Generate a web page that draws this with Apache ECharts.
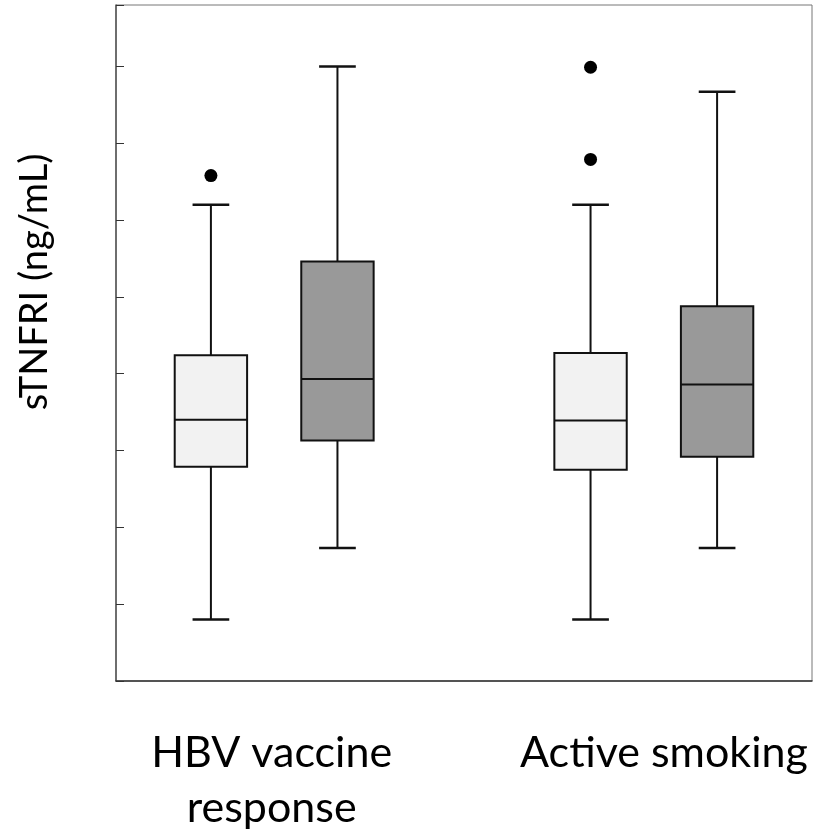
<!DOCTYPE html>
<html>
<head>
<meta charset="utf-8">
<script src="https://cdn.jsdelivr.net/npm/echarts@6/dist/echarts.min.js"></script>
<style>html,body{margin:0;padding:0;background:#fff}#c{width:817px;height:839px}</style>
</head>
<body>
<div id="c"></div>
<script>
// ---- data ----
const groupLabels = ['HBV vaccine\nresponse', 'Active smoking'];
const groupLabelPos = [1.23, 4.33];
const boxX = [0.75, 1.75, 3.75, 4.75];
const whiskerLow = [-0.2, 0.73, -0.2, 0.73];
const q1 = [1.79, 2.13, 1.75, 1.92];
const median = [2.40, 2.93, 2.39, 2.86];
const q3 = [3.24, 4.46, 3.27, 3.88];
const whiskerHigh = [5.2, 7.0, 5.2, 6.67];
const boxFill = ['#f2f2f2', '#999999', '#f2f2f2', '#999999'];
const outlierX = [0.75, 3.75, 3.75];
const outlierY = [5.58, 6.99, 5.79];
const yTicks = [0, 1, 2, 3, 4, 5, 6, 7];

// ---- build ----
const boxData = boxX.map((x, i) => [x, whiskerLow[i], q1[i], median[i], q3[i], whiskerHigh[i], i]);
const outlierData = outlierX.map((x, i) => [x, outlierY[i]]);
const tickLabelData = yTicks.map(v => [0, v]);
const BOX_HALF = 0.286;   // in x units
const CAP_HALF = 0.145;

const chart = echarts.init(document.getElementById('c'));
chart.setOption({
  animation: false,
  backgroundColor: '#fff',
  grid: { left: 116, right: 5, top: 5, bottom: 158, show: true, borderColor: '#777', borderWidth: 1, outerBoundsMode: 'none' },
  xAxis: {
    type: 'value', min: 0, max: 5.5,
    axisLine: { show: true, onZero: false, lineStyle: { color: '#333', width: 1.5 } },
    axisTick: { show: false },
    splitLine: { show: false },
    axisLabel: {
      customValues: groupLabelPos,
      formatter: function (v) {
        const i = groupLabelPos.indexOf(v);
        return i >= 0 ? groupLabels[i] : '';
      },
      fontFamily: 'Lato', fontSize: 43, color: '#000', lineHeight: 55, margin: 45
    }
  },
  yAxis: {
    type: 'value', min: -1, max: 7.8, interval: 1,
    axisLine: { show: true, onZero: false, lineStyle: { color: '#555', width: 1.5 } },
    axisTick: { show: true, inside: true, length: 8, lineStyle: { color: '#333', width: 1 } },
    splitLine: { show: false },
    axisLabel: { show: false }
  },
  graphic: [{
    type: 'text', x: 35, y: 282, rotation: Math.PI / 2,
    style: { text: 'sTNFRI (ng/mL)', fontFamily: 'Lato', fontSize: 38, fill: '#000', align: 'center', verticalAlign: 'middle' }
  }],
  series: [
    {
      type: 'custom',
      data: boxData,
      renderItem: function (params, api) {
        const x = api.value(0);
        const lo = api.value(1), a = api.value(2), m = api.value(3), b = api.value(4), hi = api.value(5);
        const idx = api.value(6);
        const pLo = api.coord([x, lo]), pA = api.coord([x, a]), pB = api.coord([x, b]), pHi = api.coord([x, hi]);
        const pM = api.coord([x, m]);
        const xl = api.coord([x - BOX_HALF, 0])[0], xr = api.coord([x + BOX_HALF, 0])[0];
        const cl = api.coord([x - CAP_HALF, 0])[0], cr = api.coord([x + CAP_HALF, 0])[0];
        const ls = { stroke: '#111', lineWidth: 2 };
        return {
          type: 'group',
          children: [
            { type: 'line', shape: { x1: pLo[0], y1: pLo[1], x2: pA[0], y2: pA[1] }, style: ls },
            { type: 'line', shape: { x1: pB[0], y1: pB[1], x2: pHi[0], y2: pHi[1] }, style: ls },
            { type: 'line', shape: { x1: cl, y1: pLo[1], x2: cr, y2: pLo[1] }, style: { stroke: '#111', lineWidth: 2.5 } },
            { type: 'line', shape: { x1: cl, y1: pHi[1], x2: cr, y2: pHi[1] }, style: { stroke: '#111', lineWidth: 2.5 } },
            { type: 'rect', shape: { x: xl, y: pB[1], width: xr - xl, height: pA[1] - pB[1] },
              style: { fill: boxFill[idx], stroke: '#111', lineWidth: 2 } },
            { type: 'line', shape: { x1: xl, y1: pM[1], x2: xr, y2: pM[1] }, style: ls }
          ]
        };
      }
    },
    {
      type: 'scatter', data: outlierData, symbol: 'circle', symbolSize: 13,
      itemStyle: { color: '#000', opacity: 1 }
    },
    {
      type: 'scatter', data: tickLabelData, symbolSize: 0, silent: true, clip: false,
      itemStyle: { opacity: 0 },
      label: {
        show: true, position: 'left', distance: 8,
        formatter: function (p) { return String(p.value[1]); },
        fontFamily: 'Liberation Sans', fontSize: 25, color: '#000'
      }
    }
  ]
});
</script>
</body>
</html>
